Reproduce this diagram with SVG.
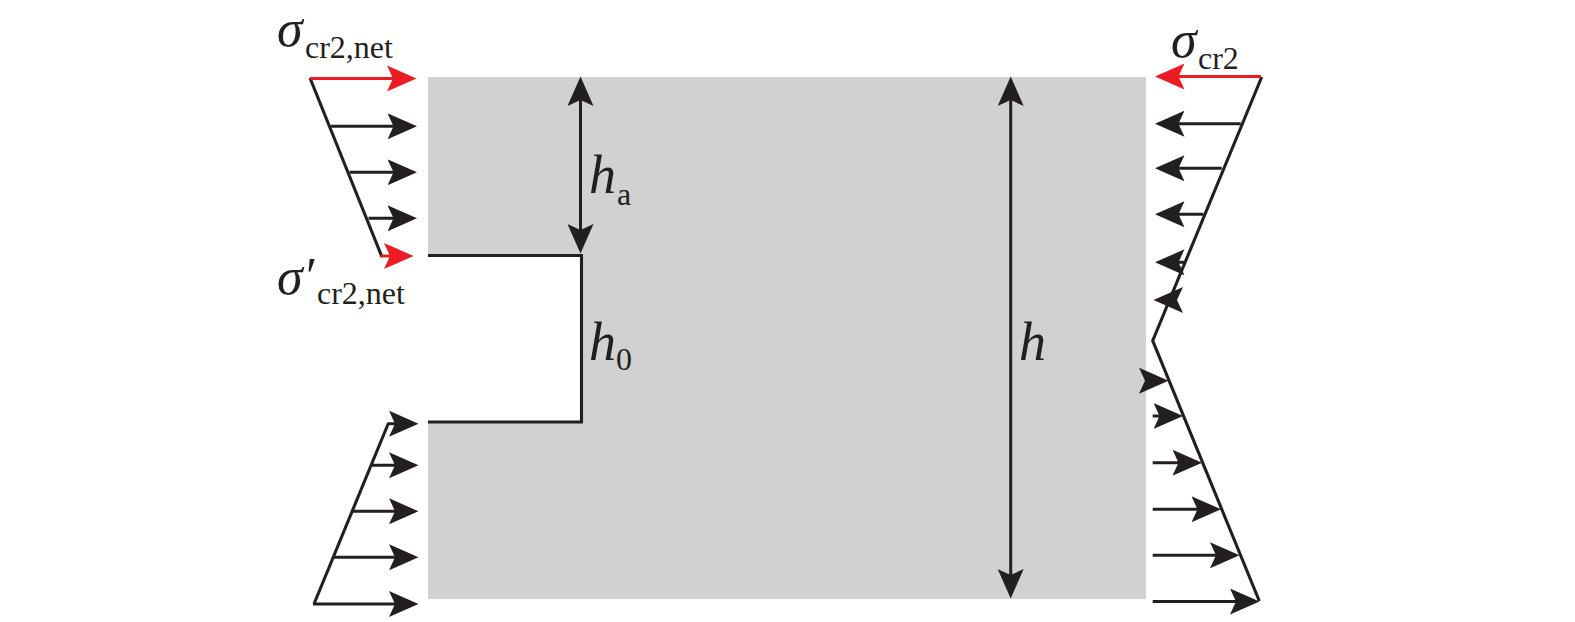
<svg xmlns="http://www.w3.org/2000/svg" width="1575" height="622" viewBox="0 0 1575 622">
<style>
.k{fill:none;stroke:#231f20;stroke-width:3.1}
.a{stroke:#231f20;stroke-width:3;fill:none;marker-end:url(#hk)}
.r{stroke:#ed1c24;stroke-width:3;fill:none;marker-end:url(#hr)}
.d{stroke:#231f20;stroke-width:3;fill:none;marker-start:url(#hs);marker-end:url(#hk)}
text{font-family:"Liberation Serif","Times New Roman",serif;fill:#231f20}
.b{font-size:54px;font-style:italic}
.g{font-size:52px;font-style:italic}
.s{font-size:32px}
</style>
<defs>
<marker id="hk" markerUnits="userSpaceOnUse" viewBox="0 0 30 26" markerWidth="30" markerHeight="26" refX="25" refY="13" orient="auto"><path d="M29.5 13L0 0L6 13L0 26Z" fill="#231f20"/></marker>
<marker id="hs" markerUnits="userSpaceOnUse" viewBox="0 0 30 26" markerWidth="30" markerHeight="26" refX="5" refY="13" orient="auto"><path d="M0.500 13L30 0L24 13L30 26Z" fill="#231f20"/></marker>
<marker id="hr" markerUnits="userSpaceOnUse" viewBox="0 0 30 26" markerWidth="30" markerHeight="26" refX="25" refY="13" orient="auto"><path d="M29.500 13L0 0L6 13L0 26Z" fill="#ed1c24"/></marker>
</defs>
<g id="panel">
<path d="M428 77H1146V599H428V422H581V255H428Z" fill="#d1d1d1"/>
<path class="k" d="M428 255.500H581.500V422H428"/>
</g>
<g id="connectors">
<g id="stress-left-top">
<path class="k" d="M310 78L382 257"/>
<line class="r" x1="310" y1="78.500" x2="412" y2="78.500"/>
<line class="a" x1="331" y1="126.300" x2="412.500" y2="126.300"/>
<line class="a" x1="349.500" y1="172.300" x2="412.500" y2="172.300"/>
<line class="a" x1="368.500" y1="218.300" x2="412.500" y2="218.300"/>
<line class="r" x1="381" y1="256" x2="409" y2="256"/>
</g>
<g id="stress-left-bottom">
<path class="k" d="M314 604L388.500 423"/>
<line class="a" x1="388" y1="423.700" x2="414" y2="423.700"/>
<line class="a" x1="371.500" y1="465.300" x2="414" y2="465.300"/>
<line class="a" x1="352.500" y1="511.300" x2="414" y2="511.300"/>
<line class="a" x1="334" y1="557.300" x2="414" y2="557.300"/>
<line class="a" x1="313" y1="604" x2="414" y2="604"/>
</g>
<g id="stress-right">
<path class="k" d="M1261.700 77L1152.700 340.700L1259.300 601"/>
<line class="r" x1="1261" y1="76.500" x2="1159.500" y2="76.500"/>
<line class="a" x1="1240.700" y1="123.700" x2="1159.500" y2="123.700"/>
<line class="a" x1="1221.700" y1="168.300" x2="1159.500" y2="168.300"/>
<line class="a" x1="1203.300" y1="214.300" x2="1159.500" y2="214.300"/>
<line class="a" x1="1184" y1="262.300" x2="1159.500" y2="262.300"/>
<line class="a" x1="1166" y1="300" x2="1158" y2="300"/>
<line class="a" x1="1147" y1="380.700" x2="1164" y2="380.700"/>
<line class="a" x1="1152.700" y1="416" x2="1178.500" y2="416"/>
<line class="a" x1="1152.700" y1="462.700" x2="1197.500" y2="462.700"/>
<line class="a" x1="1152.700" y1="509.300" x2="1216.500" y2="509.300"/>
<line class="a" x1="1152.700" y1="555.300" x2="1235" y2="555.300"/>
<line class="a" x1="1152.700" y1="601.500" x2="1255" y2="601.500"/>
</g>
<line id="dim-ha" class="d" x1="580.500" y1="81" x2="580.500" y2="249"/>
<line id="dim-h" class="d" x1="1010.700" y1="81" x2="1010.700" y2="594"/>
</g>
<g id="labels">
<text class="g" x="277" y="46">σ</text>
<text class="s" x="305" y="57.500">cr2,net</text>
<text class="g" x="277" y="294">σ′</text>
<text class="s" x="317" y="304">cr2,net</text>
<text class="b" x="589" y="193">h</text>
<text class="s" x="617" y="204.500">a</text>
<text class="b" x="589" y="359.500">h</text>
<text class="s" x="616" y="370">0</text>
<text class="b" x="1019" y="359.500">h</text>
<text class="g" x="1171" y="57">σ</text>
<text class="s" x="1198" y="68.500">cr2</text>
</g>
</svg>
